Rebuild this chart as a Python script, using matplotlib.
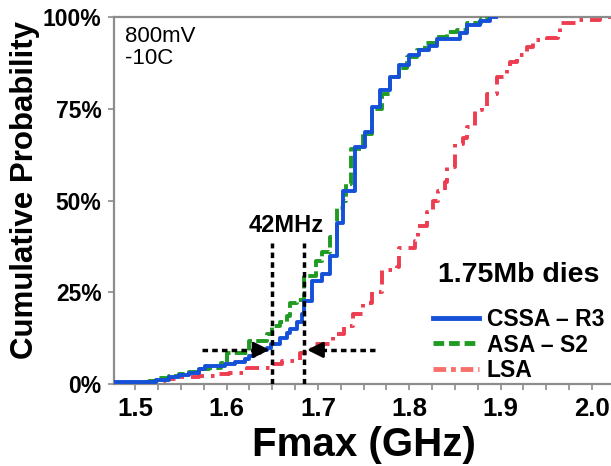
import matplotlib
matplotlib.use('Agg')
import matplotlib.pyplot as plt
from matplotlib.lines import Line2D
from matplotlib.ticker import MultipleLocator

plt.rcParams['font.family'] = ['Liberation Sans', 'DejaVu Sans']

# step points: Fmax (GHz) -> cumulative probability (%)
cssa_f = [1.479, 1.523, 1.537, 1.548, 1.559, 1.570, 1.576, 1.598, 1.609, 1.620,
          1.625, 1.630, 1.636, 1.644, 1.649, 1.658, 1.666, 1.669, 1.677, 1.683,
          1.685, 1.694, 1.704, 1.713, 1.721, 1.727, 1.740, 1.751, 1.759, 1.768,
          1.779, 1.789, 1.800, 1.811, 1.822, 1.830, 1.855, 1.863, 1.877, 1.888, 1.895]
cssa_p = [0.5, 1.0, 1.8, 2.5, 3.0, 4.0, 5.0, 5.5, 6.0, 6.8,
          7.5, 8.5, 9.3, 9.8, 11, 12.5, 14, 15, 17, 19,
          22.7, 28, 30, 35, 44, 52.7, 64.5, 68.6, 75.4, 80,
          83.6, 87, 89.6, 91, 92, 94, 95.6, 97.8, 99, 100, 100]

asa_f = [1.495, 1.515, 1.526, 1.537, 1.548, 1.559, 1.570, 1.581, 1.594, 1.600,
         1.625, 1.644, 1.650, 1.658, 1.666, 1.669, 1.677, 1.685, 1.698, 1.704,
         1.713, 1.721, 1.727, 1.731, 1.736, 1.749, 1.759, 1.770, 1.779, 1.789,
         1.797, 1.808, 1.817, 1.830, 1.841, 1.852, 1.863, 1.879, 1.885, 1.890]
asa_p = [0.3, 0.8, 1.5, 2.2, 2.8, 3.3, 4.0, 4.4, 5.7, 8.5,
         11.7, 13.7, 15.8, 17, 18.6, 22, 23, 29.5, 33.6, 36,
         40, 48, 50, 54.6, 64, 68, 75, 79, 83.6, 86,
         89, 91, 93, 94.5, 96, 96.4, 98.3, 99.5, 100, 100]

lsa_f = [1.499, 1.515, 1.532, 1.548, 1.570, 1.587, 1.603, 1.622, 1.650, 1.661,
         1.680, 1.694, 1.716, 1.729, 1.738, 1.749, 1.759, 1.770, 1.786, 1.789,
         1.806, 1.809, 1.819, 1.826, 1.831, 1.839, 1.841, 1.850, 1.859, 1.863,
         1.872, 1.880, 1.885, 1.896, 1.907, 1.910, 1.918, 1.929, 1.935, 1.951,
         1.963, 1.965, 1.984, 2.009, 2.030]
lsa_p = [0.3, 0.8, 1.3, 1.8, 2.2, 2.6, 3.0, 4.4, 5.5, 6.3,
         8.5, 11, 13.7, 15.8, 19, 22, 25, 31, 32, 37,
         39, 43, 47, 50, 52.7, 55, 59, 65.5, 67, 70,
         74.6, 75.4, 79, 83.6, 85.5, 87.7, 89.6, 91.8, 93.7, 94.3,
         95.6, 98.4, 99.2, 100, 100]

labels = ['CSSA \u2013 R3', 'ASA \u2013 S2', 'LSA']
yticks = [0, 25, 50, 75, 100]
xticks = [1.5, 1.6, 1.7, 1.8, 1.9, 2.0]

blue = '#1450d8'
green = '#1f9a22'
red = '#ee3d50'

fig = plt.figure(figsize=(6.11, 4.66), dpi=100)
ax = fig.add_axes([114 / 611, 82 / 466, 497 / 611, 367 / 466])

ax.step(cssa_f, cssa_p, where='post', color=blue, lw=2.8, zorder=4)
ax.step(asa_f, asa_p, where='post', color=green, lw=2.8, ls=(0, (3.2, 1.1)), zorder=3)
ax.step(lsa_f, lsa_p, where='post', color=red, lw=2.8, ls=(0, (3.6, 1.8, 0.9, 1.8)), zorder=2)

ax.set_xlim(1.4767, 2.0208)
ax.set_ylim(0, 100)
ax.set_xticks(xticks)
ax.set_xticklabels(['%.1f' % v for v in xticks])
ax.xaxis.set_minor_locator(MultipleLocator(0.025))
ax.set_yticks(yticks)
ax.set_yticklabels(['%d%%' % v for v in yticks])

for s in ['top', 'left', 'bottom']:
    ax.spines[s].set_color('#8c8c8c')
    ax.spines[s].set_linewidth(1.6)
ax.spines['right'].set_visible(False)
ax.tick_params(which='both', direction='out', color='#8c8c8c', width=1.2, length=4)
ax.tick_params(axis='x', which='major', labelsize=18.5, pad=5)
ax.tick_params(axis='y', labelsize=16.5, pad=5)
for t in ax.get_xticklabels() + ax.get_yticklabels():
    t.set_fontweight('bold')

# 42MHz gap markers
ax.plot([1.650, 1.650], [0, 38.5], color='k', lw=2.5, ls=(0, (1.6, 1.2)), zorder=5)
ax.plot([1.685, 1.685], [0, 38.5], color='k', lw=2.5, ls=(0, (1.6, 1.2)), zorder=5)
ax.plot([1.5735, 1.632], [9.3, 9.3], color='k', lw=2.5, ls=(0, (1.6, 1.2)), zorder=5)
ax.plot([1.703, 1.762], [9.3, 9.3], color='k', lw=2.5, ls=(0, (1.6, 1.2)), zorder=5)
ax.annotate('', xy=(1.650, 9.3), xytext=(1.628, 9.3),
            arrowprops=dict(arrowstyle='-|>', color='k', lw=2, mutation_scale=24), zorder=6)
ax.annotate('', xy=(1.685, 9.3), xytext=(1.707, 9.3),
            arrowprops=dict(arrowstyle='-|>', color='k', lw=2, mutation_scale=24), zorder=6)
ax.text(1.6656, 43.2, '42MHz', ha='center', va='center', fontsize=17, fontweight='bold')

ax.text(0.022, 0.975, '800mV\n-10C', transform=ax.transAxes, ha='left', va='top',
        fontsize=16, linespacing=1.05)

# legend
handles = [Line2D([], [], color=blue, lw=3.5),
           Line2D([], [], color=green, lw=3.5, ls=(0, (2.2, 1.0))),
           Line2D([], [], color='#f7716a', lw=3.5, ls=(0, (2.6, 1.0, 1.0, 1.0)))]
leg = ax.legend(handles, labels, loc='center left',
                bbox_to_anchor=(433 / 611, 1 - 345 / 466), bbox_transform=fig.transFigure,
                frameon=False, prop={'weight': 'bold', 'size': 16.5},
                handlelength=2.0, handletextpad=0.35, labelspacing=0.12,
                borderpad=0, borderaxespad=0)
fig.text(438 / 611, 1 - 275 / 466, '1.75Mb dies', ha='left', va='center',
         fontsize=20.5, fontweight='bold')

fig.text(364 / 611, 1 - 445 / 466, 'Fmax (GHz)', ha='center', va='center',
         fontsize=29, fontweight='bold')
fig.text(25 / 611, 1 - 190 / 466, 'Cumulative Probability', ha='center', va='center',
         rotation=90, fontsize=22.5, fontweight='bold')

fig.savefig('out.png', dpi=100)
